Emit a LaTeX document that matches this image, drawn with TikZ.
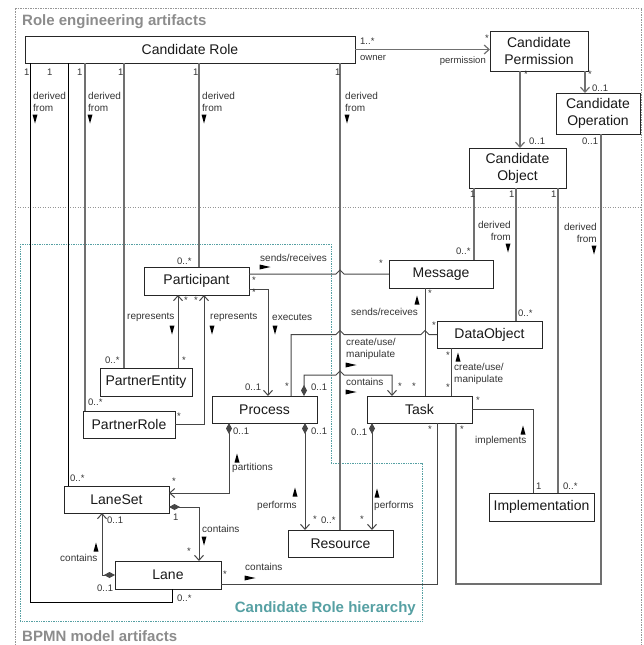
\documentclass[tikz,border=0pt]{standalone}
\usepackage{fontspec}
\setmainfont{Liberation Sans}
\usetikzlibrary{arrows.meta}
\definecolor{framegray}{RGB}{150,150,150}
\definecolor{titlegray}{RGB}{140,140,140}
\definecolor{tealc}{RGB}{86,160,163}
\definecolor{lgray}{RGB}{112,112,112}
\definecolor{dgray}{RGB}{70,70,70}
\begin{document}
\begin{tikzpicture}[x=1pt,y=-1pt,
  box/.style={draw=black!85, line width=0.9pt, fill=white, inner sep=0pt, outer sep=0pt,
    font=\fontsize{14}{17}\selectfont, align=center, text=black!90},
  lab/.style={inner sep=0pt, font=\fontsize{10}{12}\selectfont, text=black!80},
  mul/.style={inner sep=0pt, font=\fontsize{9.5}{11}\selectfont, text=black!80},
  bl/.style={draw=black, line width=1pt},
  cl/.style={draw=lgray, line width=1.2pt},
  dl/.style={draw=dgray, line width=1pt},
  ow/.style={-{Straight Barb[length=5pt,width=9pt]}},
  dw/.style={{Diamond[length=11pt,width=6pt]}-{Straight Barb[length=5pt,width=9pt]}},
  tdn/.pic={\fill[black] (-2.5,-4.5) -- (2.5,-4.5) -- (0,4.5) -- cycle;},
  tup/.pic={\fill[black] (-2.5,4.5) -- (2.5,4.5) -- (0,-4.5) -- cycle;},
  trt/.pic={\fill[black] (-5.5,-2.5) -- (-5.5,2.5) -- (5.5,0) -- cycle;}
]
\useasboundingbox (0,0) rectangle (643,645);

% frames
\draw[framegray, line width=0.8pt, dash pattern=on 1.2pt off 1.3pt] (15,645) -- (15,8) -- (641.5,8) -- (641.5,645);
\draw[framegray, line width=0.8pt, dash pattern=on 1.2pt off 1.3pt] (15,207) -- (641.5,207);
\draw[tealc, line width=0.9pt, dash pattern=on 0.8pt off 0.9pt] (20,244) -- (331,244) -- (331,463) -- (422,463) -- (422,621) -- (20,621) -- cycle;
\node[anchor=west, inner sep=0pt, font=\fontsize{15}{18}\selectfont\bfseries, text=titlegray] (t1) at (22,22) {Role engineering artifacts};
\node[anchor=west, inner sep=0pt, font=\fontsize{15}{18}\selectfont\bfseries, text=titlegray] (t2) at (22,636) {BPMN model artifacts};
\node[anchor=east, inner sep=0pt, font=\fontsize{15}{18}\selectfont\bfseries, text=tealc] (t3) at (416,609) {Candidate Role hierarchy};

% column / row coordinates
\foreach \x in {30,68,85,102,124,172,178,199,204,229,268,291,304,305,340,372,392,425,437,451,456,474,516,520,533,558,585,601}
  \coordinate (c\x) at (\x,0);
\foreach \y in {289,375,493,507,584,602}
  \coordinate (r\y) at (0,\y);

% boxes
\node[box, minimum width=330, minimum height=27] (crole) at (190,49.5) {Candidate Role};
\node[box, minimum width=98, minimum height=40] (cperm) at (539,51) {Candidate\\Permission};
\node[box, minimum width=84, minimum height=41] (cop) at (598,113.5) {Candidate\\Operation};
\node[box, minimum width=97, minimum height=40] (cobj) at (517.5,168) {Candidate\\Object};
\node[box, minimum width=105, minimum height=28] (part) at (196.5,281) {Participant};
\node[box, minimum width=104, minimum height=28] (msg) at (441,274) {Message};
\node[box, minimum width=105, minimum height=27] (dobj) at (489.5,334.5) {DataObject};
\node[box, minimum width=92, minimum height=28] (pent) at (146,382) {PartnerEntity};
\node[box, minimum width=92, minimum height=27] (prole) at (129,424.5) {PartnerRole};
\node[box, minimum width=105, minimum height=27] (proc) at (264.5,409.5) {Process};
\node[box, minimum width=105, minimum height=27] (task) at (419.5,409.5) {Task};
\node[box, minimum width=105, minimum height=28] (impl) at (541.5,507) {Implementation};
\node[box, minimum width=105, minimum height=27] (laneset) at (116.5,499.5) {LaneSet};
\node[box, minimum width=105, minimum height=27] (res) at (340.5,543.5) {Resource};
\node[box, minimum width=106, minimum height=28] (lane) at (168,575) {Lane};

% derived-from connectors
\draw[bl] (crole.south -| c30) -- (c30 |- r602) -- (c172 |- r602) -- (lane.south -| c172);
\draw[bl] (crole.south -| c68) -- (laneset.north -| c68);
\draw[cl] (crole.south -| c85) -- (prole.north -| c85);
\draw[cl] (crole.south -| c124) -- (pent.north -| c124);
\draw[cl] (crole.south -| c199) -- (part.north -| c199);
\draw[cl] (crole.south -| c340) -- (res.north -| c340);
\draw[cl] (cobj.south -| c474) -- (msg.north -| c474);
\draw[cl] (cobj.south -| c516) -- (dobj.north -| c516);
\draw[cl] (cobj.south -| c558) -- (impl.north -| c558);
\draw[cl] (cop.south -| c601) -- (c601 |- r584) -- (c456 |- r584) -- (task.south -| c456);

% role engineering associations
\draw[cl,ow] (crole.east) -- (crole.east -| cperm.west);
\draw[cl,ow] (cperm.south -| c585) -- (cop.north -| c585);
\draw[cl,ow] (cperm.south -| c520) -- (cobj.north -| c520);

% BPMN associations
\draw[dl] (msg.west -| part.east) -- (336,274) -- ++(4,-4) -- ++(4,4) -- (msg.west);
\draw[dl,ow] (part.east |- r289) -- (c268 |- r289) -- (proc.north -| c268);
\draw[dl] (msg.south -| c425) -- (task.north -| c425);
\draw[dl] (dobj.west) -- (429,334.5) -- ++(-4,-4) -- ++(-4,4) -- (344,334.5) -- ++(-4,-4) -- ++(-4,4) -- (dobj.west -| c291) -- (proc.north -| c291);
\draw[dl] (dobj.south -| c451) -- (task.north -| c451);
\draw[dl,dw] (proc.north -| c304) -- (c304 |- r375) -- (336,375) -- ++(4,-4) -- ++(4,4) -- (c392 |- r375) -- (task.north -| c392);
\draw[dl,dw] (proc.south -| c229) -- (c229 |- r493) -- (laneset.east |- r493);
\draw[dl,dw] (proc.south -| c305) -- (res.north -| c305);
\draw[dl,dw] (task.south -| c372) -- (res.north -| c372);
\draw[dl,dw] (laneset.east |- r507) -- (c199 |- r507) -- (lane.north -| c199);
\draw[dl,dw] (lane.west) -- (lane.west -| c102) -- (laneset.south -| c102);
\draw[dl,ow] (pent.north -| c178) -- (part.south -| c178);
\draw[dl,ow] (prole.east) -- (prole.east -| c204) -- (part.south -| c204);
\draw[dl] (task.east) -- (task.east -| c533) -- (impl.north -| c533);
\draw[dl] (lane.east |- r584) -- (c437 |- r584) -- (task.south -| c437);

% multiplicities near Candidate Role
\node[mul,anchor=west] (m1) at (24,72) {1};
\node[mul,anchor=west] (m2) at (47,72) {1};
\node[mul,anchor=west] (m3) at (77,72) {1};
\node[mul,anchor=west] (m4) at (118,72) {1};
\node[mul,anchor=west] (m5) at (193,72) {1};
\node[mul,anchor=west] (m6) at (335,72) {1};
\node[mul,anchor=west] (m7) at (360,41) {1..*};
\node[mul,anchor=west] (m8) at (360,58) {owner};
\node[mul,anchor=west] (m9) at (485,38) {*};
\node[mul,anchor=east] (m10) at (486,61) {permission};
\node[mul,anchor=west] (m11) at (524,74) {*};
\node[mul,anchor=west] (m12) at (588,74) {*};
\node[mul,anchor=west] (m13) at (592,88) {0..1};
\node[mul,anchor=west] (m14) at (529,141) {0..1};
\node[mul,anchor=west] (m15) at (582,141) {0..1};
\node[mul,anchor=west] (m16) at (470,194) {1};
\node[mul,anchor=west] (m17) at (509,194) {1};
\node[mul,anchor=west] (m18) at (551,194) {1};

% derived from labels
\node[lab,anchor=west,align=left] (d1) at (33,102) {derived\\from};
\node[lab,anchor=west,align=left] (d2) at (88,102) {derived\\from};
\node[lab,anchor=west,align=left] (d3) at (202,102) {derived\\from};
\node[lab,anchor=west,align=left] (d4) at (345,102) {derived\\from};
\node[lab,anchor=east,align=right] (d5) at (511,231) {derived\\from};
\node[lab,anchor=east,align=right] (d6) at (597,233) {derived\\from};
\pic at (35,119) {tdn};
\pic at (90,119) {tdn};
\pic at (204,119) {tdn};
\pic at (347,119) {tdn};
\pic at (508,248) {tdn};
\pic at (594,250) {tdn};

% BPMN multiplicities
\node[mul,anchor=west] (n1) at (456,251) {0..*};
\node[mul,anchor=west] (n2) at (518,313) {0..*};
\node[mul,anchor=west] (n3) at (432,325) {*};
\node[mul,anchor=west] (n4) at (428,293) {*};
\node[mul,anchor=west] (n5) at (446,355) {*};
\node[mul,anchor=west] (n6) at (446,387) {*};
\node[mul,anchor=west] (n7) at (476,400) {*};
\node[mul,anchor=west] (n8) at (428,429) {*};
\node[mul,anchor=west] (n9) at (460,429) {*};
\node[mul,anchor=west] (n10) at (536,486) {1};
\node[mul,anchor=west] (n11) at (563,486) {0..*};
\node[mul,anchor=west] (n12) at (177,261) {0..*};
\node[mul,anchor=west] (n13) at (252,280) {*};
\node[mul,anchor=west] (n14) at (252,292) {*};
\node[mul,anchor=west] (n15) at (379,263) {*};
\node[mul,anchor=west] (n16) at (245,387) {0..1};
\node[mul,anchor=west] (n17) at (285,386) {*};
\node[mul,anchor=west] (n18) at (311,387) {0..1};
\node[mul,anchor=west] (n19) at (398,386) {*};
\node[mul,anchor=west] (n20) at (412,386) {*};
\node[mul,anchor=west] (n21) at (184,300) {*};
\node[mul,anchor=west] (n22) at (194,300) {*};
\node[mul,anchor=west] (n23) at (182,360) {*};
\node[mul,anchor=west] (n24) at (105,360) {0..*};
\node[mul,anchor=west] (n25) at (88,402) {0..*};
\node[mul,anchor=west] (n26) at (177,416) {*};
\node[mul,anchor=west] (n27) at (233,431) {0..1};
\node[mul,anchor=west] (n28) at (311,431) {0..1};
\node[mul,anchor=west] (n29) at (313,519) {*};
\node[mul,anchor=west] (n30) at (321,520) {0..*};
\node[mul,anchor=west] (n31) at (351,432) {0..1};
\node[mul,anchor=west] (n32) at (360,519) {*};
\node[mul,anchor=west] (n33) at (70,478) {0..*};
\node[mul,anchor=west] (n34) at (172,481) {*};
\node[mul,anchor=west] (n35) at (173,517) {1};
\node[mul,anchor=west] (n36) at (107,520) {0..1};
\node[mul,anchor=west] (n37) at (187,551) {*};
\node[mul,anchor=west] (n38) at (97,588) {0..1};
\node[mul,anchor=west] (n39) at (223,574) {*};
\node[mul,anchor=west] (n40) at (177,598) {0..*};

% BPMN role labels
\node[lab,anchor=west] (a1) at (260,258) {sends/receives};
\pic at (265,267) {trt};
\node[lab,anchor=west] (a2) at (272,317) {executes};
\pic at (275,330) {tdn};
\node[lab,anchor=west] (a3) at (351,312) {sends/receives};
\pic at (417,300) {tup};
\node[lab,anchor=west,align=left] (a4) at (346,349) {create/use/\\manipulate};
\pic at (351,365) {trt};
\node[lab,anchor=west] (a5) at (346,382) {contains};
\pic at (351,392) {trt};
\node[lab,anchor=west,align=left] (a6) at (454,374) {create/use/\\manipulate};
\pic at (458,357) {tup};
\node[lab,anchor=west] (a7) at (475,441) {implements};
\pic at (523,430) {tup};
\node[lab,anchor=west] (a8) at (127,317) {represents};
\pic at (172,330) {tdn};
\node[lab,anchor=west] (a9) at (210,317) {represents};
\pic at (212,330) {tdn};
\node[lab,anchor=west] (a10) at (232,468) {partitions};
\pic at (237,458) {tup};
\node[lab,anchor=west] (a11) at (257,506) {performs};
\pic at (295,492) {tup};
\node[lab,anchor=west] (a12) at (374,506) {performs};
\pic at (377,493) {tup};
\node[lab,anchor=west] (a13) at (202,529) {contains};
\pic at (204,541) {tdn};
\node[lab,anchor=west] (a14) at (60,558) {contains};
\pic at (96,547) {tup};
\node[lab,anchor=west] (a15) at (245,567) {contains};
\pic at (250,578) {trt};
\end{tikzpicture}
\end{document}
